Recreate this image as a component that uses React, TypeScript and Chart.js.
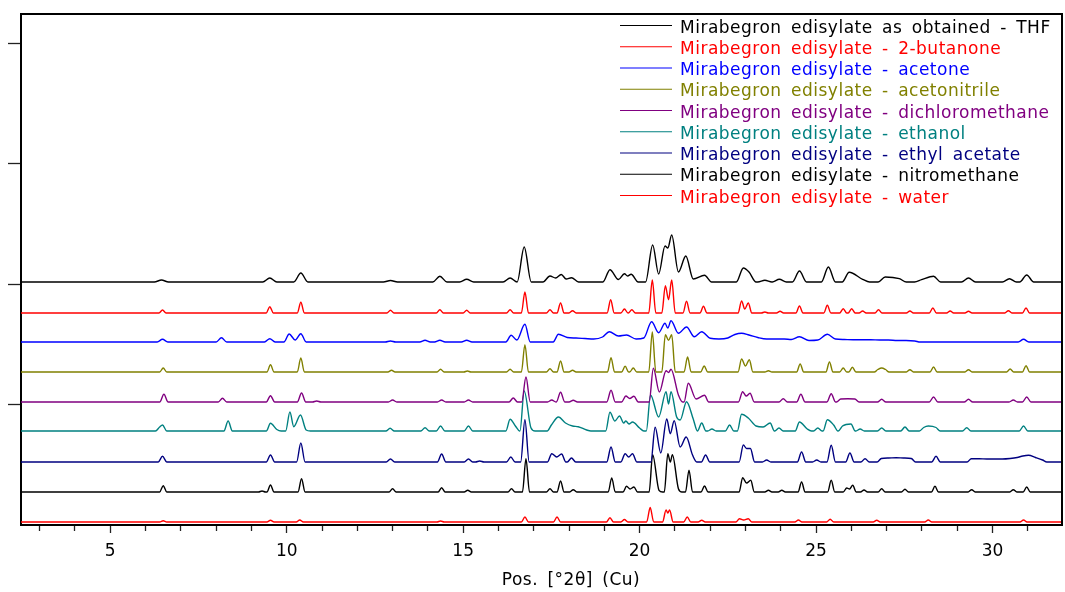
import React, { useEffect, useRef } from 'react';
import { Chart, registerables } from 'chart.js';

Chart.register(...registerables);

// ---- Data (2θ in degrees, intensity above each pattern's own baseline, arbitrary units) ----
const seriesLabels = [
  'Mirabegron edisylate as obtained - THF',
  'Mirabegron edisylate - 2-butanone',
  'Mirabegron edisylate - acetone',
  'Mirabegron edisylate - acetonitrile',
  'Mirabegron edisylate - dichloromethane',
  'Mirabegron edisylate - ethanol',
  'Mirabegron edisylate - ethyl acetate',
  'Mirabegron edisylate - nitromethane',
  'Mirabegron edisylate - water',
];

const seriesColors = [
  '#000000', '#ff0000', '#0000ff', '#808000', '#800080', '#008080', '#000080', '#000000', '#ff0000',
];

// vertical offset of each pattern (stacked display)
const baselineOffsets = [243, 212, 183, 153, 123, 94, 63, 33, 3];
// half width of a reflection at its base, degrees 2θ
const peakHalfWidths = [0.2, 0.1, 0.15, 0.1, 0.12, 0.12, 0.12, 0.1, 0.1];

const thfPeaks: [number, number][] = [
  [6.45, 2], [9.52, 4], [10.40, 9], [12.94, 1.5], [14.34, 5.7], [15.10, 2.7], [16.33, 4], [16.73, 35],
  [17.46, 6], [17.62, 4], [17.78, 7.5], [17.92, 3], [18.07, 4.3], [19.16, 12.3], [19.40, 2.5], [19.57, 8.3],
  [19.66, 6], [19.76, 7.7], [20.37, 37], [20.54, 8], [20.72, 36], [20.80, 34], [20.91, 47], [21.10, 10],
  [21.31, 26], [21.52, 3], [21.84, 6.7], [22.94, 14], [23.10, 10], [23.55, 1.7], [23.96, 2.7], [24.53, 11],
  [25.35, 15], [25.94, 9.7], [26.32, 2.7], [26.96, 5], [27.36, 3.3], [27.99, 2.3], [28.33, 5.7], [29.32, 4],
  [30.48, 3.3], [30.97, 7],
];

const butanonePeaks: [number, number][] = [
  [6.48, 3], [9.52, 6.3], [10.40, 10.7], [12.94, 2.7], [14.34, 3.3], [15.10, 2.7], [16.33, 3.3], [16.75, 21],
  [17.46, 3.3], [17.76, 10], [18.10, 2.3], [19.18, 13.3], [19.57, 4], [19.78, 3.3], [20.36, 33], [20.73, 27.3],
  [20.82, 13.3], [20.91, 33], [21.33, 11.7], [21.81, 6.7], [22.89, 12], [22.98, 4], [23.08, 10], [23.55, 1],
  [23.98, 1.7], [24.53, 7], [25.32, 7.7], [25.77, 4.3], [26.01, 4.3], [26.32, 2], [26.77, 3.3], [27.66, 2],
  [28.31, 5], [28.80, 2], [29.32, 1.7], [30.45, 2.3], [30.95, 5],
];

const acetonePeaks: [number, number][] = [
  [6.48, 2.7], [8.15, 4.3], [9.52, 3.3], [10.07, 8], [10.24, 2], [10.40, 8.3], [12.94, 1], [13.92, 1.7],
  [14.34, 1.7], [15.10, 1.7], [16.36, 6.7], [16.52, 2], [16.75, 17.7], [17.70, 7.7], [17.95, 4.5], [18.20, 4],
  [18.45, 3.5], [18.70, 3], [18.95, 5], [19.14, 10.3], [19.40, 6], [19.63, 7], [19.90, 3], [20.12, 4],
  [20.34, 20.3], [20.54, 9.3], [20.72, 18.7], [20.80, 14], [20.89, 21.3], [21.10, 8.7], [21.33, 15], [21.55, 5.3],
  [21.76, 10.3], [22.00, 3.7], [22.25, 3], [22.50, 4], [22.70, 7.5], [22.89, 8.7], [23.10, 7], [23.35, 4.5],
  [23.60, 3], [23.85, 3], [24.10, 3], [24.30, 2.5], [24.53, 5.3], [24.80, 1.5], [25.05, 2], [25.32, 7.7],
  [25.55, 3], [25.80, 2.5], [26.05, 2.3], [26.30, 2.3], [26.55, 2.3], [26.80, 2], [27.05, 2], [27.30, 1.5],
  [27.55, 1.5], [27.80, 1], [30.88, 2.7],
];

const acetonitrilePeaks: [number, number][] = [
  [6.50, 4], [9.54, 7.3], [10.40, 14], [12.97, 1.7], [14.36, 2.7], [15.12, 1], [16.33, 2.7], [16.75, 27.3],
  [17.46, 3.3], [17.76, 11], [18.10, 1.7], [19.19, 14.3], [19.59, 5.7], [19.82, 4], [20.36, 40], [20.73, 37.3],
  [20.82, 31.7], [20.91, 37.3], [21.36, 15], [21.83, 6], [22.89, 13], [23.00, 6], [23.11, 12.3], [23.65, 1.3],
  [24.55, 8], [25.38, 10], [25.77, 4], [26.03, 4.7], [26.75, 2.5], [26.86, 4], [26.97, 2.5], [27.66, 2.3],
  [28.33, 5], [29.32, 2.3], [30.50, 3], [30.95, 6.3],
];

const dichloromethanePeaks: [number, number][] = [
  [6.52, 7.7], [8.18, 3.7], [9.54, 6.3], [10.42, 9], [10.85, 1], [13.00, 2], [14.39, 2], [15.15, 2],
  [16.42, 4], [16.78, 25], [17.51, 2], [17.76, 9.7], [18.12, 1.7], [19.19, 11.7], [19.61, 6], [19.72, 3.5],
  [19.84, 5.7], [20.39, 33.7], [20.56, 10], [20.75, 31.3], [20.82, 29.5], [20.89, 32.7], [21.10, 7], [21.38, 18.7],
  [21.60, 3], [21.84, 6.7], [22.92, 10.3], [23.02, 6], [23.13, 8.7], [24.07, 3.3], [24.57, 7.7], [25.43, 8.3],
  [25.70, 3], [25.90, 3.3], [26.10, 3], [26.86, 2.7], [28.33, 5], [29.32, 2.7], [30.59, 2], [30.97, 5],
];

const ethanolPeaks: [number, number][] = [
  [6.40, 4], [6.48, 6], [8.34, 10], [9.54, 7.7], [9.72, 1.5], [10.09, 19], [10.20, 4.3], [10.39, 16],
  [10.55, 1], [12.93, 2.7], [13.92, 3.3], [14.36, 5], [15.15, 5], [16.33, 11.7], [16.48, 5], [16.73, 40],
  [16.92, 3.3], [17.50, 6], [17.70, 14], [17.90, 8], [18.10, 5], [18.26, 4.3], [18.50, 1], [19.16, 18.7],
  [19.30, 10], [19.43, 15], [19.55, 8], [19.61, 10], [19.70, 7], [19.80, 9], [20.00, 3], [20.31, 36],
  [20.54, 14], [20.75, 39.3], [20.82, 27], [20.89, 39.3], [21.05, 14], [21.15, 11], [21.33, 29.3], [21.52, 12],
  [21.76, 8], [22.05, 2], [22.55, 6], [22.89, 16.7], [23.08, 13], [23.30, 5], [23.50, 4], [23.70, 8],
  [23.95, 3], [24.53, 9], [24.75, 2], [25.05, 3], [25.32, 11.3], [25.50, 6], [25.75, 5], [25.99, 7],
  [26.25, 2], [26.86, 3], [27.52, 4], [28.05, 3.5], [28.18, 5], [28.40, 3.5], [29.27, 3.3], [30.88, 5],
];

const ethylAcetatePeaks: [number, number][] = [
  [6.48, 5.7], [9.54, 7], [10.40, 19], [12.94, 3], [14.39, 8], [15.15, 3], [15.47, 1], [16.35, 5],
  [16.75, 42.3], [17.51, 8.3], [17.65, 5], [17.79, 8], [18.07, 4], [19.19, 15], [19.59, 8.3], [19.69, 5],
  [19.80, 8.3], [20.44, 34.7], [20.60, 9], [20.77, 43], [20.87, 28.3], [20.98, 41.3], [21.15, 15], [21.32, 25],
  [21.50, 7], [21.87, 7], [22.94, 17], [23.03, 13.5], [23.14, 13.5], [23.60, 2], [24.59, 10], [25.02, 2],
  [25.43, 16.7], [25.96, 9], [26.39, 3.3], [26.85, 3.5], [27.06, 4], [27.27, 4.3], [27.48, 4], [27.70, 3.5],
  [28.40, 5.7], [29.40, 3.3], [29.62, 3.3], [29.84, 3], [30.06, 3], [30.28, 3], [30.50, 3.5], [30.70, 4.5],
  [30.86, 6], [31.02, 6.7], [31.22, 4.5], [31.42, 2],
];

const nitromethanePeaks: [number, number][] = [
  [6.50, 6.3], [9.30, 1], [9.54, 7], [10.42, 13.3], [13.00, 3.3], [14.39, 4.3], [15.13, 1.7], [16.37, 3.3],
  [16.78, 33.3], [17.46, 3.3], [17.76, 11], [18.12, 2.3], [19.21, 14], [19.63, 5.7], [19.73, 3], [19.84, 5],
  [20.37, 37.3], [20.55, 1.7], [20.80, 38.3], [20.87, 30], [20.93, 37.3], [21.10, 3.3], [21.40, 21.7], [21.84, 6],
  [22.92, 14.3], [23.03, 9], [23.15, 11.7], [23.65, 1.7], [24.03, 1.7], [24.59, 10], [25.43, 11.7], [25.87, 4],
  [25.95, 3], [26.04, 6.7], [26.36, 2], [26.86, 3.3], [27.52, 2.7], [28.37, 5.7], [29.41, 2.3], [30.59, 2.3],
  [30.97, 5],
];

const waterPeaks: [number, number][] = [
  [6.50, 1.3], [9.54, 1.7], [10.37, 2], [14.36, 1], [16.75, 5], [17.66, 5], [19.16, 4.3], [19.57, 2.5],
  [20.30, 14.5], [20.75, 12], [20.80, 9], [20.85, 12], [21.35, 5], [21.76, 1.7], [22.83, 3.3], [22.95, 2],
  [23.08, 3.3], [24.50, 2], [25.40, 2.7], [26.72, 1.7], [28.18, 2], [30.88, 2],
];

const seriesPeaks = [
  thfPeaks, butanonePeaks, acetonePeaks, acetonitrilePeaks, dichloromethanePeaks,
  ethanolPeaks, ethylAcetatePeaks, nitromethanePeaks, waterPeaks,
];

const xMin = 2.47;
const xMax = 31.97;
const yMin = 0;
const yMax = 511;
const yTickValues = [120.5, 241, 361.5, 482];
const xTickValues = [3, 4, 5, 6, 7, 8, 9, 10, 11, 12, 13, 14, 15, 16, 17, 18, 19, 20, 21, 22, 23, 24, 25, 26, 27, 28, 29, 30, 31];
const xLabelledTicks = [5, 10, 15, 20, 25, 30];
const xAxisTitle = 'Pos. [°2θ] (Cu)';

const FONT = '"DejaVu Sans", Verdana, sans-serif';
const FONT_SIZE = 17;
const LETTER_SPACING = '0.5px';
const WORD_SPACING = '3.5px';

// Build one stacked pattern: baseline + reflections (vertices).
function buildTrace(peaks: [number, number][], offset: number, w: number) {
  const pts: { x: number; y: number }[] = [{ x: xMin, y: offset }];
  for (let i = 0; i < peaks.length; i++) {
    const [t, h] = peaks[i];
    if (i === 0) {
      if (t - w > xMin) pts.push({ x: t - w, y: offset });
    } else {
      const prevT = peaks[i - 1][0];
      if (t - prevT > 2 * w) {
        pts.push({ x: prevT + w, y: offset });
        pts.push({ x: t - w, y: offset });
      }
    }
    pts.push({ x: t, y: offset + h });
  }
  const lastT = peaks[peaks.length - 1][0];
  if (lastT + w < xMax) pts.push({ x: lastT + w, y: offset });
  pts.push({ x: xMax, y: offset });
  return pts;
}

function setTextStyle(ctx: any) {
  ctx.font = `${FONT_SIZE}px ${FONT}`;
  ctx.letterSpacing = LETTER_SPACING;
  ctx.wordSpacing = WORD_SPACING;
}

const framePlugin = {
  id: 'frameBox',
  afterDraw(chart: any) {
    const { ctx, chartArea } = chart;
    ctx.save();
    ctx.strokeStyle = '#000';
    ctx.lineWidth = 2;
    ctx.beginPath();
    ctx.moveTo(chartArea.left, chartArea.top);
    ctx.lineTo(chartArea.right, chartArea.top);
    ctx.lineTo(chartArea.right, chartArea.bottom);
    ctx.stroke();
    ctx.restore();
  },
};

const legendPlugin = {
  id: 'insideLegend',
  afterDraw(chart: any) {
    const { ctx } = chart;
    const ds = chart.data.datasets;
    ctx.save();
    setTextStyle(ctx);
    ctx.textAlign = 'left';
    ctx.textBaseline = 'alphabetic';
    for (let i = 0; i < ds.length; i++) {
      const base = 32.7 + i * 21.25;
      ctx.strokeStyle = ds[i].borderColor;
      ctx.lineWidth = 1.2;
      ctx.beginPath();
      ctx.moveTo(620, base - 7.2);
      ctx.lineTo(672, base - 7.2);
      ctx.stroke();
      ctx.fillStyle = ds[i].borderColor;
      ctx.fillText(ds[i].label, 680, base);
    }
    ctx.restore();
  },
};

const axisTitlePlugin = {
  id: 'xAxisTitle',
  afterDraw(chart: any) {
    const { ctx } = chart;
    ctx.save();
    setTextStyle(ctx);
    ctx.fillStyle = '#000';
    ctx.textAlign = 'center';
    ctx.textBaseline = 'alphabetic';
    ctx.fillText(xAxisTitle, 571, 585);
    ctx.restore();
  },
};

export default function App() {
  const canvasRef = useRef<HTMLCanvasElement | null>(null);

  useEffect(() => {
    if (!canvasRef.current) return;
    const datasets = seriesLabels.map((label, i) => ({
      label,
      data: buildTrace(seriesPeaks[i], baselineOffsets[i], peakHalfWidths[i]),
      borderColor: seriesColors[i],
      backgroundColor: seriesColors[i],
      borderWidth: 1.4,
      pointRadius: 0,
      cubicInterpolationMode: 'monotone',
      fill: false,
    }));

    const chart = new Chart(canvasRef.current, {
      type: 'line',
      data: { datasets },
      options: {
        responsive: false,
        animation: false,
        devicePixelRatio: 1,
        parsing: false,
        layout: { padding: { top: 14, right: 3, left: 0, bottom: 0 } },
        plugins: {
          legend: { display: false },
          tooltip: { enabled: false },
          title: { display: false },
        },
        scales: {
          x: {
            type: 'linear',
            min: xMin,
            max: xMax,
            afterBuildTicks: (scale: any) => {
              scale.ticks = xTickValues.map((v) => ({ value: v }));
            },
            afterFit: (scale: any) => {
              scale.height = 67;
            },
            ticks: {
              autoSkip: false,
              maxRotation: 0,
              padding: 8,
              color: '#000',
              font: { family: FONT, size: FONT_SIZE },
              callback: (v: any) => (xLabelledTicks.includes(Number(v)) ? String(v) : ''),
            },
            grid: {
              drawOnChartArea: false,
              drawTicks: true,
              tickLength: 8,
              tickColor: '#222',
              tickWidth: 1.3,
              tickBorderDash: (ctx: any) =>
                ctx.tick && !xLabelledTicks.includes(ctx.tick.value) ? [5, 30] : [],
            },
            border: { display: true, color: '#000', width: 2 },
          },
          y: {
            type: 'linear',
            min: yMin,
            max: yMax,
            afterBuildTicks: (scale: any) => {
              scale.ticks = yTickValues.map((v) => ({ value: v }));
            },
            afterFit: (scale: any) => {
              scale.width = 21;
            },
            ticks: { display: false },
            grid: {
              drawOnChartArea: false,
              drawTicks: true,
              tickLength: 13,
              tickColor: '#222',
              tickWidth: 1.3,
            },
            border: { display: true, color: '#000', width: 2 },
          },
        },
      },
      plugins: [framePlugin, legendPlugin, axisTitlePlugin],
    } as any);

    return () => chart.destroy();
  }, []);

  return (
    <div style={{ position: 'absolute', left: 0, top: 0, width: 1065, height: 592, background: '#fff' }}>
      <canvas ref={canvasRef} width={1065} height={592} style={{ display: 'block' }} />
    </div>
  );
}
